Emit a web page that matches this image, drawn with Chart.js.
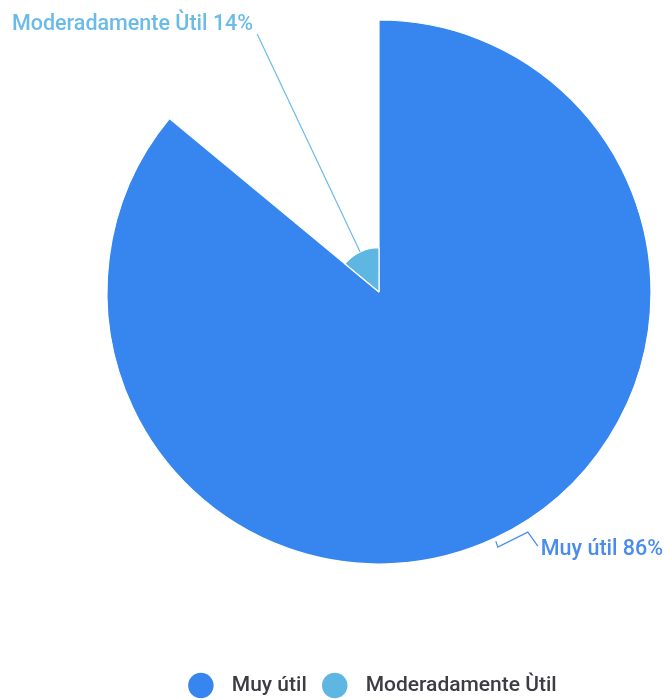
<!DOCTYPE html>
<html>
<head>
<meta charset="utf-8">
<script src="https://cdn.jsdelivr.net/npm/chart.js@4/dist/chart.umd.min.js"></script>
<style>
html,body{margin:0;padding:0;background:#fff;}
#wrap{width:664px;height:700px;position:relative;}
</style>
</head>
<body>
<div id="wrap"><canvas id="c" width="664" height="700"></canvas></div>
<script>
const categories = ['Muy útil', 'Moderadamente Ùtil'];
const percentValues = [86, 14];
const sliceColors = ['#3786F0', '#5EB6E2'];
const labelColors = ['#4A8CEE', '#6BBBE8'];

const leaderPlugin = {
  id: 'leaders',
  afterDatasetsDraw(chart) {
    const ctx = chart.ctx;
    const meta = chart.getDatasetMeta(0);
    ctx.save();
    ctx.font = '500 21.5px Roboto';
    ctx.lineWidth = 1.2;
    meta.data.forEach((arc, i) => {
      const p = arc.getProps(['x','y','startAngle','endAngle','outerRadius'], true);
      const mid = (p.startAngle + p.endAngle) / 2;
      const ax = p.x + Math.cos(mid) * p.outerRadius;
      const ay = p.y + Math.sin(mid) * p.outerRadius;
      const text = categories[i] + ' ' + percentValues[i] + '%';
      ctx.strokeStyle = labelColors[i];
      ctx.fillStyle = labelColors[i];
      ctx.textBaseline = 'middle';
      ctx.beginPath();
      if (i === 0) {
        ctx.moveTo(ax + 1, ay + 3);
        ctx.lineTo(ax + 3, ay + 9);
        ctx.lineTo(ax + 33, ay - 6);
        ctx.lineTo(ax + 43, ay + 8);
        ctx.stroke();
        ctx.textAlign = 'left';
        ctx.fillText(text, ax + 46, ay + 12);
      } else {
        ctx.moveTo(ax, ay);
        ctx.lineTo(ax - 103, ay - 218);
        ctx.stroke();
        ctx.textAlign = 'right';
        ctx.fillText(text, ax - 107, ay - 227);
      }
    });
    ctx.restore();
  }
};

new Chart(document.getElementById('c'), {
  type: 'polarArea',
  data: {
    labels: categories,
    datasets: [{
      data: percentValues,
      backgroundColor: sliceColors,
      borderColor: '#ffffff',
      borderWidth: 1.2,
      angle: (c) => percentValues[c.dataIndex] * 3.6
    }]
  },
  options: {
    responsive: false,
    animation: false,
    layout: { padding: { left: 94, right: 0, top: 20, bottom: -6 } },
    scales: {
      r: {
        display: false,
        min: 0,
        max: 86,
        startAngle: 0
      }
    },
    plugins: {
      tooltip: { enabled: false },
      legend: {
        position: 'bottom',
        title: { display: true, text: '', font: { size: 12 }, padding: { top: 78.6, bottom: 0 } },
        labels: {
          usePointStyle: true,
          pointStyle: 'circle',
          boxHeight: 18,
          boxWidth: 20,
          padding: 18,
          color: '#3C3C44',
          font: { family: 'Roboto', size: 21, weight: '500' },
          generateLabels(chart) {
            return categories.map((t, i) => ({
              text: '  ' + t + (i === categories.length - 1 ? '  ' : ''),
              fillStyle: sliceColors[i],
              strokeStyle: sliceColors[i],
              lineWidth: 0,
              pointStyle: 'circle',
              hidden: false,
              index: i,
              fontColor: '#3C3C44'
            }));
          }
        }
      }
    }
  },
  plugins: [leaderPlugin]
});
</script>
</body>
</html>
